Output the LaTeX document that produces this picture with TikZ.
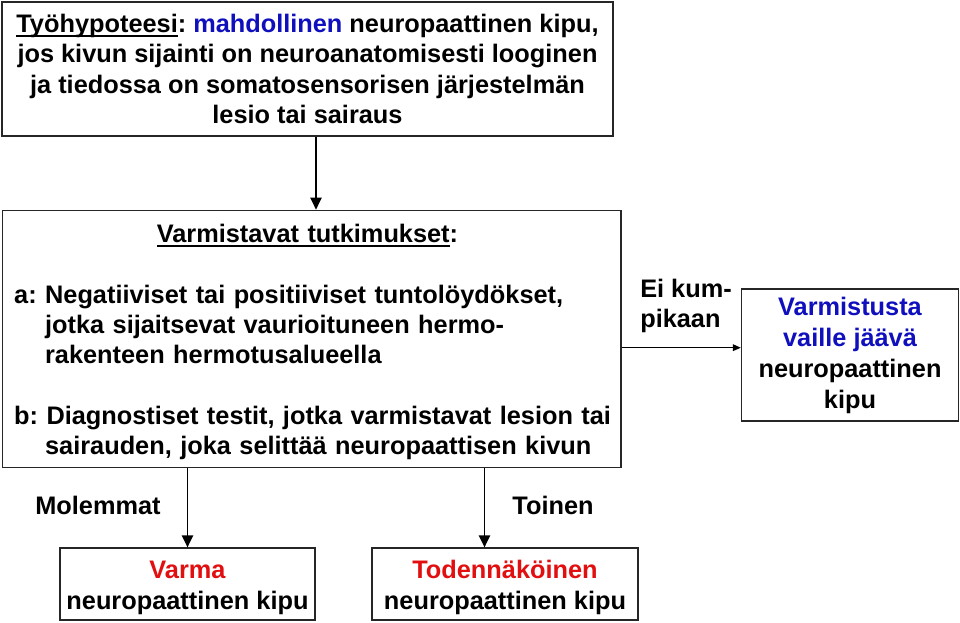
\documentclass[tikz,border=0pt]{standalone}
\usepackage{fontspec}
\setmainfont{Liberation Sans}
\definecolor{hypblue}{RGB}{15, 15, 190}
\definecolor{diagred}{RGB}{225, 15, 15}
\usetikzlibrary{arrows.meta, positioning, calc}
\newcommand{\ulbox}[1]{\setbox0=\hbox{#1}\rlap{\rule[-3pt]{\wd0}{1.1pt}}\box0}
\newcommand{\topstrut}{\rule{0pt}{19pt}}

\begin{document}
\begin{tikzpicture}[
  x=0.75pt, y=-0.75pt,
  every node/.style={font=\fontsize{19}{22.7}\selectfont\bfseries\frenchspacing},
  box/.style={draw=black!85, line width=1pt, inner sep=0pt, align=center},
  arr/.style={-{Triangle[length=9pt, width=8.5pt]}, line width=1pt},
  lbl/.style={inner sep=0pt},
]
  \useasboundingbox (0,0) rectangle (960,623);
  % boxes
  \node[box, minimum width=458.25pt, minimum height=100.5pt] (hyp) at (307.5,69)
    {\ulbox{Työhypoteesi}: \textcolor{hypblue}{mahdollinen} neuropaattinen kipu,\\
     jos kivun sijainti on neuroanatomisesti looginen\\
     ja tiedossa on somatosensorisen järjestelmän\\
     lesio tai sairaus};
  \node[box, align=left, text width=452pt, inner xsep=6pt, minimum height=192.75pt] (tests) at (311.5,338.8)
    {\topstrut\makebox[446pt]{\ulbox{Varmistavat tutkimukset}:}\\[22.7pt]
     \hspace*{3pt}a: Negatiiviset tai positiiviset tuntolöydökset,\\
     \hspace*{3pt}\hphantom{a: }jotka sijaitsevat vaurioituneen hermo-\\
     \hspace*{3pt}\hphantom{a: }rakenteen hermotusalueella\\[22.7pt]
     \hspace*{3pt}b: Diagnostiset testit, jotka varmistavat lesion tai\\
     \hspace*{3pt}\hphantom{a: }sairauden, joka selittää neuropaattisen kivun};
  \node[box, minimum width=162.75pt, minimum height=99pt,
        font=\fontsize{19}{23.25}\selectfont\bfseries] (unconf) at (850,355)
    {\textcolor{hypblue}{Varmistusta}\\ \textcolor{hypblue}{vaille jäävä}\\ neuropaattinen\\ kipu};
  \node[box, minimum width=191.25pt, minimum height=54pt] (sure) at (187.5,584)
    {\topstrut\textcolor{diagred}{Varma}\\ neuropaattinen kipu};
  \node[box, minimum width=199.5pt, minimum height=54pt] (probable) at (505,584)
    {\topstrut\textcolor{diagred}{Todennäköinen}\\ neuropaattinen kipu};
  % labels
  \node[lbl] (both) at (98,505) {Molemmat};
  \node[lbl] (either) at (553,505) {Toinen};
  \node[lbl, align=left, anchor=west] (neither) at (640,306) {Ei kum-\\pikaan};
  % arrows
  \coordinate (xa) at (316,0);
  \coordinate (xc) at (484.5,0);
  \coordinate (ya) at (0,347.7);
  \draw[arr] (hyp.south -| xa) -- (tests.north -| xa);
  \draw[arr] (tests.south -| sure.north) -- (sure.north);
  \draw[arr] (tests.south -| xc) -- (probable.north -| xc);
  \draw[arr, -{Triangle[length=6pt, width=5pt]}] (tests.east |- ya) -- (unconf.west |- ya);
\end{tikzpicture}
\end{document}
